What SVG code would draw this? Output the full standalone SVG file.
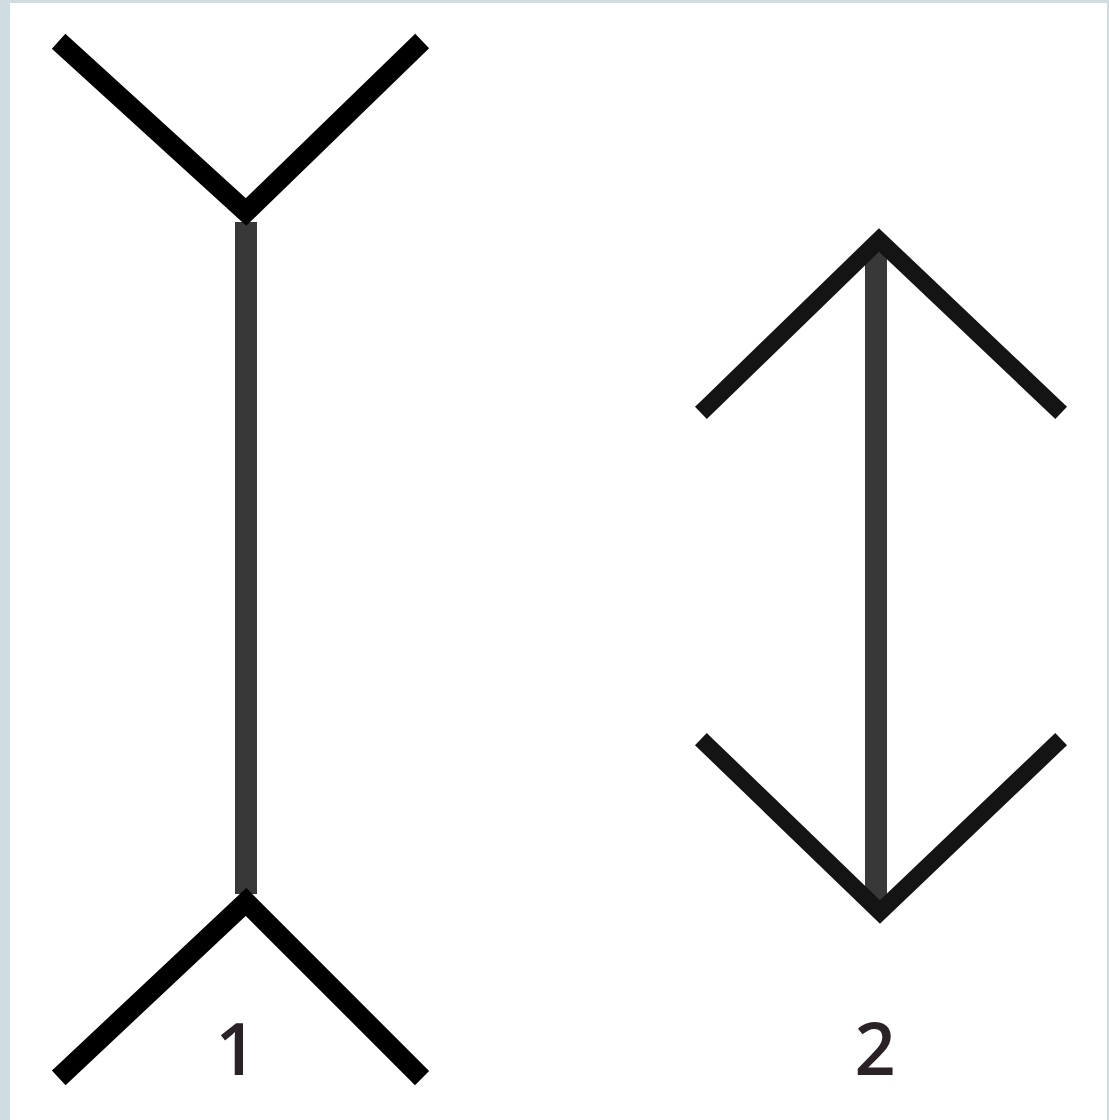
<svg xmlns="http://www.w3.org/2000/svg" width="1109" height="1120" viewBox="0 0 1109 1120">
  <style>
    .shaft { fill: #383838; }
    .fin1 { fill: none; stroke: #000; stroke-width: 20; stroke-linecap: square; stroke-linejoin: miter; }
    .fin2 { fill: none; stroke: #141414; stroke-width: 17; stroke-linecap: square; stroke-linejoin: miter; }
    .label { font-family: "Open Sans", "Noto Sans", "Liberation Sans", sans-serif; font-size: 72px; font-weight: 600; fill: #2a2226; text-anchor: middle; }
  </style>
  <rect x="0" y="0" width="1109" height="1120" fill="#cfdce2"/>
  <rect x="10" y="3" width="1097" height="1117" fill="#ffffff"/>
  <g id="figure1">
    <rect class="shaft" x="235" y="222" width="22" height="672"/>
    <polyline class="fin1" points="66,48 246,212 415,48"/>
    <polyline class="fin1" points="66,1071 246,902 415,1071"/>
    <text class="label" x="236" y="1075">1</text>
  </g>
  <g id="figure2">
    <rect class="shaft" x="865" y="242" width="22" height="660"/>
    <polyline class="fin2" points="707,407 879,240 1055,407"/>
    <polyline class="fin2" points="707,745 880,912 1055,745"/>
    <text class="label" x="875" y="1075">2</text>
  </g>
</svg>
